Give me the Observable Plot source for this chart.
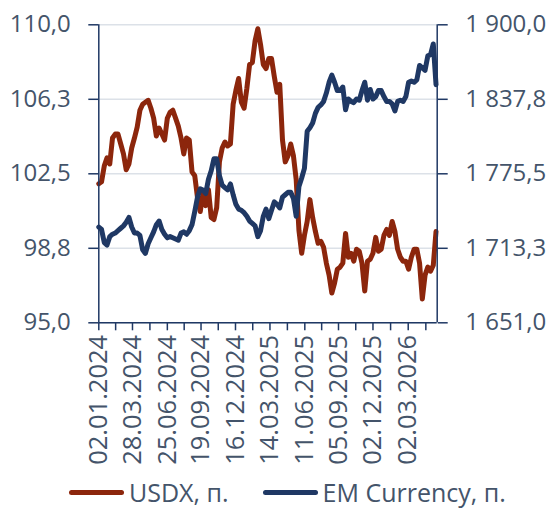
<!DOCTYPE html>
<html><head><meta charset="utf-8">
<script src="https://cdn.jsdelivr.net/npm/d3@7"></script>
<script src="https://cdn.jsdelivr.net/npm/@observablehq/plot@0.6"></script>
<style>
body{margin:0;background:#fff;font-family:"Open Sans",sans-serif;}
#legend{display:flex;align-items:center;height:34px;padding-left:69px;font-size:25px;color:#44546A;white-space:nowrap;}
.sw{display:inline-block;width:55px;height:5px;border-radius:3px;margin-right:5px;}
.it{display:flex;align-items:center;}
</style></head><body>
<div id="chart"></div>
<div id="legend"></div>
<script>
// weekly observations starting from this date
const startDate = "2024-01-02";
const endDate = "2026-05-15";
const seriesNames = ["USDX, п.", "EM Currency, п."];
const seriesColors = ["#8C260C", "#1F3864"];
const usdx = [102.0,102.1,102.9,103.3,103.0,104.3,104.5,104.5,104.0,103.5,
102.7,103.0,103.8,104.3,104.85,105.7,106.0,106.1,106.2,105.8,
105.3,104.4,104.8,104.5,104.2,105.3,105.6,105.7,105.3,104.9,
104.3,103.5,104.3,104.2,102.6,102.4,101.3,100.6,101.5,100.9,
101.7,100.3,100.2,100.8,103.1,103.8,104.1,103.9,104.0,106.0,
106.7,107.3,106.1,105.8,106.8,108.0,108.1,109.2,109.8,109.0,
108.0,107.8,108.3,108.3,107.4,106.6,107.0,104.2,103.1,103.4,
104.0,103.4,102.2,99.65,98.5,99.4,100.1,101.2,100.3,99.6,
99.0,99.1,98.8,98.0,97.4,96.5,97.0,97.7,97.8,98.0,
99.5,98.3,98.5,98.1,98.7,98.6,98.0,96.6,98.1,98.2,
98.5,99.3,98.6,98.7,99.4,99.7,99.4,100.1,99.6,98.7,
98.3,98.1,98.1,97.7,98.3,98.7,98.7,98.0,96.2,97.4,
97.8,97.6,97.9,99.6];
const emCurrency = [1731,1729,1718,1716,1723,1725,1726,1728,1730,1732,
1735,1739,1731,1726,1726,1724,1712,1709,1717,1722,
1727,1733,1736,1729,1725,1722,1723,1722,1721,1720,
1726,1727,1725,1728,1733,1744,1756,1763,1762,1759,
1771,1778,1788,1788,1774,1766,1764,1762,1767,1758,
1750,1746,1745,1743,1740,1736,1734,1732,1723,1728,
1740,1746,1738,1745,1752,1750,1747,1756,1758,1760,
1760,1755,1740,1765,1772,1780,1811,1814,1818,1826,
1831,1833,1836,1843,1852,1858,1852,1845,1845,1848,
1829,1838,1836,1835,1838,1837,1845,1852,1837,1846,
1838,1840,1845,1845,1840,1836,1836,1834,1828,1836,
1837,1836,1840,1852,1853,1852,1854,1866,1864,1862,
1874,1875,1884,1850];
const xTickLabels = ["02.01.2024","28.03.2024","25.06.2024","19.09.2024","16.12.2024","14.03.2025","11.06.2025","05.09.2025","02.12.2025","02.03.2026"];
const leftTicks = [95, 98.75, 102.5, 106.25, 110];
const rightTicks = [1651, 1713.25, 1775.5, 1837.75, 1900];

const textColor = "#44546A", axisColor = "#1F3864", gridColor = "#DCE1E8";
const parseISO = d3.utcParse("%Y-%m-%d");
const parseRu = d3.utcParse("%d.%m.%Y");
const start = parseISO(startDate), end = parseISO(endDate);
const dates = usdx.map((_, i) => d3.utcDay.offset(start, 7 * i));
const tickDates = xTickLabels.map(parseRu);
const minorDates = tickDates.map((d, i) => i < tickDates.length - 1
  ? new Date((+d + +tickDates[i + 1]) / 2)
  : new Date(+d + (+d - +tickDates[i - 1]) / 2));

const r0 = rightTicks[0], r1 = rightTicks[rightTicks.length - 1];
const l0 = leftTicks[0], l1 = leftTicks[leftTicks.length - 1];
const toLeft = v => l0 + (v - r0) * (l1 - l0) / (r1 - r0);

const fmt = v => {
  const [i, f] = v.toFixed(1).split(".");
  return i.replace(/\B(?=(\d{3})+(?!\d))/g, "\u00a0") + "," + f;
};

const redData = dates.map((d, i) => ({date: d, v: usdx[i]}));
const blueData = dates.map((d, i) => ({date: d, v: toLeft(emCurrency[i])}));

const plot = Plot.plot({
  width: 552, height: 475,
  marginTop: 24.3, marginBottom: 152.7, marginLeft: 98.3, marginRight: 115.3,
  style: {fontFamily: "'Open Sans', sans-serif", fontSize: "24px", color: textColor, background: "white"},
  x: {type: "utc", domain: [start, end]},
  y: {domain: [l0, l1]},
  marks: [
    Plot.gridY(leftTicks, {stroke: gridColor, strokeOpacity: 1, strokeWidth: 1.5}),
    Plot.line(redData, {x: "date", y: "v", stroke: seriesColors[0], strokeWidth: 5, strokeLinejoin: "round", strokeLinecap: "round"}),
    Plot.line(blueData, {x: "date", y: "v", stroke: seriesColors[1], strokeWidth: 5, strokeLinejoin: "round", strokeLinecap: "round"}),
    Plot.ruleX([start], {stroke: axisColor, strokeWidth: 1.5}),
    Plot.ruleX([end], {stroke: axisColor, strokeWidth: 1.5}),
    Plot.ruleY([l0], {stroke: axisColor, strokeWidth: 1.5}),
    Plot.axisY(leftTicks, {anchor: "left", label: null, tickSize: 10, tickPadding: 18, tickFormat: fmt, stroke: axisColor, strokeWidth: 1.5, fill: textColor, fontSize: 24}),
    Plot.axisY(leftTicks, {anchor: "right", label: null, tickSize: 10, tickPadding: 18, tickFormat: d => fmt(rightTicks[leftTicks.indexOf(d)]), stroke: axisColor, strokeWidth: 1.5, fill: textColor, fontSize: 24}),
    Plot.axisX(tickDates, {anchor: "bottom", label: null, tickSize: 8, tickPadding: 4, tickRotate: -90, tickFormat: d3.utcFormat("%d.%m.%Y"), stroke: axisColor, strokeWidth: 1.5, fill: textColor, fontSize: 25.5}),
    Plot.axisX(minorDates, {anchor: "bottom", label: null, tickSize: 8, tickFormat: () => "", stroke: axisColor, strokeWidth: 1.5})
  ]
});
document.getElementById("chart").appendChild(plot);

const legend = document.getElementById("legend");
seriesNames.forEach((name, i) => {
  const it = document.createElement("span");
  it.className = "it";
  if (i > 0) it.style.marginLeft = "34px";
  it.innerHTML = `<span class="sw" style="background:${seriesColors[i]}"></span><span>${name}</span>`;
  legend.appendChild(it);
});
</script>
</body></html>
